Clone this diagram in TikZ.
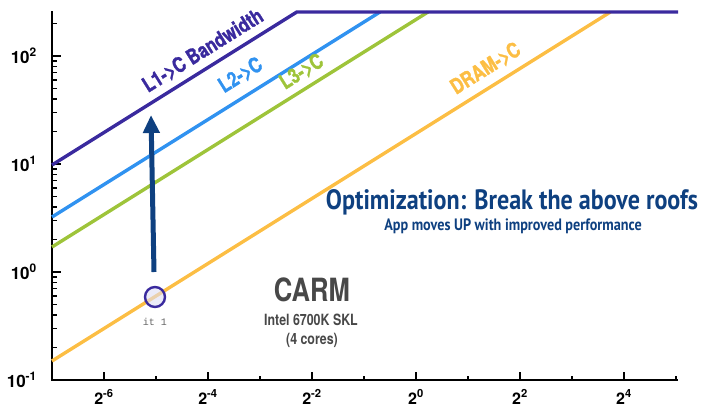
\documentclass[tikz,border=0pt]{standalone}
\usepackage{fontspec}
\setmainfont{TeX Gyre Heros}
\newfontfamily\condfont[FakeStretch=0.8]{TeX Gyre Heros}
\newfontfamily\heavycond[FakeStretch=0.8, BoldFeatures={FakeBold=1.3}]{TeX Gyre Heros}
\newfontfamily\narrowfont[FakeStretch=0.86]{PT Sans}
\setmonofont{Liberation Mono}
\usetikzlibrary{arrows.meta}

\definecolor{roofLone}{RGB}{58,42,158}
\definecolor{roofLtwo}{RGB}{48,146,240}
\definecolor{roofLthree}{RGB}{158,196,58}
\definecolor{roofDRAM}{RGB}{252,190,68}
\definecolor{optblue}{RGB}{14,64,128}
\definecolor{carmgray}{RGB}{72,72,72}
\definecolor{pointfill}{RGB}{222,222,244}

\tikzset{
  axisline/.style={line width=2pt, line cap=rect},
  majortick/.style={line width=1.8pt},
  minortick/.style={line width=1.5pt},
  roofline/.style={line width=3.4pt, line join=miter},
  rooflabel/.style={font=\heavycond\bfseries\fontsize{21}{21}\selectfont, rotate=32, anchor=base west, inner sep=0pt},
  ylab/.style={font=\bfseries\fontsize{17}{17}\selectfont, anchor=base east, inner sep=0pt},
  xlab/.style={font=\bfseries\fontsize{16}{16}\selectfont, anchor=base, inner sep=0pt},
  uparrow/.style={line width=5pt, draw=optblue, -{Triangle[width=16pt,length=18pt]}},
}

\begin{document}
\begin{tikzpicture}[x=1pt, y=-1pt]
\useasboundingbox (0,0) rectangle (705,408);

% axes
\coordinate (ytop) at (52,12);
\coordinate (origin) at (52,380);
\coordinate (xend) at (677,380);
\draw[axisline] (ytop) -- (origin) -- (xend);

% y ticks (log10 scale, 108 units per decade)
\foreach \d in {-1,0,1,2} {
  \pgfmathsetmacro\yy{380-(\d+1)*108}
  \draw[majortick] (52,\yy) -- ++(9,0);
  \foreach \k in {2,...,9} {
    \pgfmathsetmacro\ym{380-(\d+1+log10(\k))*108}
    \pgfmathparse{\ym>=13 ? 1 : 0}
    \ifnum\pgfmathresult=1 \draw[minortick] (52,\ym) -- ++(5,0); \fi
  }
}
\node[ylab] (y2) at (37,63) {10\textsuperscript{2}};
\node[ylab] (y1) at (37,171) {10\textsuperscript{1}};
\node[ylab] (y0) at (37,279) {10\textsuperscript{0}};
\node[ylab] (ym1) at (37,387) {10\textsuperscript{-1}};

% x ticks (log2 scale, 52 units per power of two)
\foreach \e in {-6,-4,...,4} {
  \pgfmathsetmacro\xx{52+(\e+7)*52}
  \draw[majortick] (\xx,380) -- ++(0,-8);
  \node[xlab] at (\xx,404) {2\textsuperscript{\e}};
}
\foreach \e in {-5,-3,...,5} {
  \pgfmathsetmacro\xx{52+(\e+7)*52}
  \draw[minortick] (\xx,380) -- ++(0,-4);
}

% roofs
\coordinate (dramS) at (52,361);
\coordinate (dramR) at (610.4,12);
\coordinate (l3S) at (52,247);
\coordinate (l3R) at (428,12);
\coordinate (l2S) at (52,217);
\coordinate (l2R) at (380,12);
\coordinate (l1S) at (52,165);
\coordinate (l1R) at (296.8,12);
\coordinate (roofEnd) at (678,12);
\draw[roofline, roofDRAM] (dramS) -- (dramR);
\draw[roofline, roofLthree] (l3S) -- (l3R);
\draw[roofline, roofLtwo] (l2S) -- (l2R);
\draw[roofline, roofLone] (l1S) -- (l1R) -- (roofEnd);

\node[rooflabel, text=roofLone] (lab1) at (148,93) {L1->C Bandwidth};
\node[rooflabel, text=roofLtwo] (lab2) at (224,93.5) {L2->C};
\node[rooflabel, text=roofLthree] (lab3) at (285,90) {L3->C};
\node[rooflabel, text=roofDRAM] (labd) at (456,95) {DRAM->C};

% the application point and its move
\coordinate (moveFrom) at (154,272);
\coordinate (moveTo) at (151,115);
\draw[uparrow] (moveFrom) -- (moveTo);

\node[circle, draw=roofLone, line width=2.4pt, fill=pointfill, fill opacity=0.6,
      minimum size=20pt, inner sep=0pt] (it1) at (155,297) {};
\node[font=\ttfamily\fontsize{10}{10}\selectfont, text=black!60, inner sep=0pt] (it1lab) at (155,322) {it 1};

% annotations
\node[font=\narrowfont\bfseries\fontsize{28}{28}\selectfont, text=optblue, inner sep=0pt] (title) at (512,202) {Optimization: Break the above roofs};
\node[font=\narrowfont\bfseries\fontsize{16.5}{16.5}\selectfont, text=optblue, inner sep=0pt] (subtitle) at (513,226) {App moves UP with improved performance};

\node[font=\condfont\bfseries\fontsize{32}{32}\selectfont, text=carmgray, inner sep=0pt] (carm) at (312,290) {CARM};
\node[font=\condfont\bfseries\fontsize{15.5}{15.5}\selectfont, text=carmgray, inner sep=0pt] (cpu) at (311,320) {Intel 6700K SKL};
\node[font=\condfont\bfseries\fontsize{15.5}{15.5}\selectfont, text=carmgray, inner sep=0pt] (cores) at (312,340) {(4 cores)};
\end{tikzpicture}
\end{document}
